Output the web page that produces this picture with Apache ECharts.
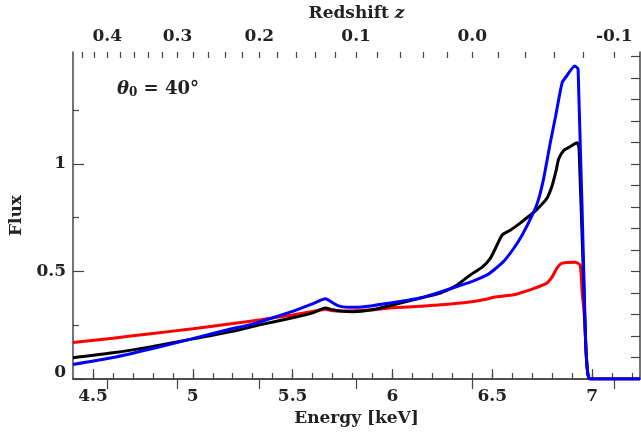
<!DOCTYPE html>
<html>
<head>
<meta charset="utf-8">
<script src="https://cdn.jsdelivr.net/npm/echarts@6/dist/echarts.min.js"></script>
<style>
  html, body { margin: 0; padding: 0; background: #fff; }
  #chart { width: 641px; height: 432px; }
</style>
</head>
<body>
<div id="chart"></div>
<script>
// energy grid (keV) and flux, one pair of arrays per curve
const energyBlack = [4.40, 4.60, 4.80, 5.00, 5.20, 5.34, 5.50, 5.60, 5.665, 5.70, 5.75, 5.80, 5.90, 6.00, 6.14, 6.24, 6.32, 6.39, 6.45, 6.49, 6.524, 6.549, 6.59, 6.64, 6.69, 6.72, 6.773, 6.80, 6.82, 6.833, 6.858, 6.89, 6.925, 6.935, 6.967, 6.978, 6.99, 7.24]
const fluxBlack   = [0.099, 0.122, 0.152, 0.187, 0.222, 0.253, 0.285, 0.308, 0.330, 0.322, 0.315, 0.313, 0.322, 0.344, 0.377, 0.400, 0.435, 0.484, 0.520, 0.561, 0.623, 0.669, 0.692, 0.725, 0.762, 0.785, 0.839, 0.900, 0.970, 1.024, 1.062, 1.080, 1.098, 1.070, 0.190, 0.030, 0.0, 0.0]

const energyBlue = [4.40, 4.60, 4.80, 5.00, 5.20, 5.29, 5.40, 5.50, 5.60, 5.665, 5.70, 5.73, 5.775, 5.85, 5.99, 6.14, 6.29, 6.40, 6.474, 6.508, 6.56, 6.608, 6.65, 6.708, 6.733, 6.758, 6.79, 6.817, 6.85, 6.87, 6.913, 6.93, 6.967, 6.978, 6.99, 7.24]
const fluxBlue   = [0.068, 0.100, 0.142, 0.188, 0.235, 0.253, 0.285, 0.315, 0.350, 0.373, 0.355, 0.340, 0.334, 0.335, 0.354, 0.377, 0.420, 0.454, 0.484, 0.507, 0.550, 0.608, 0.670, 0.777, 0.839, 0.935, 1.095, 1.220, 1.378, 1.405, 1.455, 1.440, 0.190, 0.030, 0.0, 0.0]

const energyRed = [4.40, 4.60, 4.80, 5.00, 5.20, 5.34, 5.50, 5.60, 5.665, 5.70, 5.75, 5.90, 6.00, 6.14, 6.24, 6.29, 6.408, 6.474, 6.508, 6.608, 6.64, 6.70, 6.773, 6.80, 6.823, 6.848, 6.915, 6.94, 6.95, 6.962, 6.975, 6.99, 7.24]
const fluxRed   = [0.170, 0.190, 0.212, 0.234, 0.258, 0.276, 0.298, 0.314, 0.325, 0.318, 0.316, 0.322, 0.332, 0.338, 0.346, 0.349, 0.361, 0.372, 0.380, 0.392, 0.400, 0.418, 0.446, 0.475, 0.515, 0.538, 0.543, 0.530, 0.410, 0.284, 0.050, 0.0, 0.0]

// tick labels
const energyTicks = [4.5, 5, 5.5, 6, 6.5, 7]
const fluxTicks = [0, 0.5, 1]
const fluxMinorTicks = [0.25, 0.75, 1.25]
const redshiftTicks = [0.4, 0.3, 0.2, 0.1, 0.0, -0.1]
const restEnergy = 6.4 // keV, line energy at z = 0

const energyMinorTicks = []
for (let i = 45; i <= 72; i++) energyMinorTicks.push(i / 10)
const fluxRightTicks = []
for (let i = 1; i <= 15; i++) fluxRightTicks.push(i / 10)
const redshiftMinorTicks = []
for (let i = 22; i >= -5; i--) redshiftMinorTicks.push(i / 50)

const zToE = z => restEnergy / (1 + z)
const eToZ = e => restEnergy / e - 1

const zip = (xs, ys) => xs.map((x, i) => [x, ys[i]])

const font = 'DejaVu Serif'
const frameColor = '#444'
const textStyle = { fontFamily: font, fontWeight: 'bold', fontSize: 17, color: '#222' }

const chart = echarts.init(document.getElementById('chart'))

const frame = { show: true, lineStyle: { color: frameColor, width: 1.5 } }
const noLine = { show: false }

const lineSeries = (name, xs, ys, color) => ({
  name, type: 'line', data: zip(xs, ys),
  showSymbol: false, symbol: 'none',
  smooth: 0.2,
  lineStyle: { color, width: 3 }
})

chart.setOption({
  animation: false,
  backgroundColor: '#fff',
  title: {
    text: '{th|θ}{sub|0}{eq| = 40°}',
    left: 112,
    top: 74,
    textStyle: {
      rich: {
        th: { fontFamily: font, fontStyle: 'italic', fontWeight: 'bold', fontSize: 18, color: '#222' },
        sub: { fontFamily: font, fontWeight: 'bold', fontSize: 12, color: '#222', verticalAlign: 'bottom', padding: [8, 0, 0, 0] },
        eq: { fontFamily: font, fontWeight: 'bold', fontSize: 18, color: '#222' }
      }
    }
  },
  grid: { left: 73, right: 1, top: 52, bottom: 50 },
  xAxis: [
    {
      type: 'value', min: 4.4, max: 7.24, position: 'bottom',
      name: 'Energy [keV]', nameLocation: 'middle', nameGap: 30,
      nameTextStyle: textStyle,
      axisLine: frame,
      axisTick: { show: true, inside: true, length: 10, customValues: energyTicks, lineStyle: { color: frameColor, width: 1.2 } },
      axisLabel: { customValues: energyTicks, margin: 9, ...textStyle, formatter: v => String(v) },
      splitLine: { show: false }
    },
    {
      type: 'value', min: 4.4, max: 7.24, position: 'bottom',
      axisLine: noLine,
      axisTick: { show: true, inside: true, length: 6, customValues: energyMinorTicks, lineStyle: { color: frameColor, width: 1.2 } },
      axisLabel: { show: false },
      splitLine: { show: false }
    },
    {
      type: 'value', min: 4.4, max: 7.24, position: 'top',
      name: '{r|Redshift }{z|z}', nameLocation: 'middle', nameGap: 30,
      nameTextStyle: {
        rich: {
          r: textStyle,
          z: { ...textStyle, fontStyle: 'italic' }
        }
      },
      axisLine: frame,
      axisTick: { show: true, inside: true, length: 10, customValues: redshiftTicks.map(zToE), lineStyle: { color: frameColor, width: 1.2 } },
      axisLabel: { customValues: redshiftTicks.map(zToE), margin: 7, ...textStyle, formatter: v => eToZ(v).toFixed(1) },
      splitLine: { show: false }
    },
    {
      type: 'value', min: 4.4, max: 7.24, position: 'top',
      axisLine: noLine,
      axisTick: { show: true, inside: true, length: 6, customValues: redshiftMinorTicks.map(zToE), lineStyle: { color: frameColor, width: 1.2 } },
      axisLabel: { show: false },
      splitLine: { show: false }
    }
  ],
  yAxis: [
    {
      type: 'value', min: 0, max: 1.52, position: 'left',
      name: 'Flux', nameLocation: 'middle', nameGap: 46,
      nameTextStyle: textStyle,
      axisLine: frame,
      axisTick: { show: true, inside: true, length: 11, customValues: fluxTicks, lineStyle: { color: frameColor, width: 1.2 } },
      axisLabel: {
        customValues: fluxTicks, margin: 7, ...textStyle,
        formatter: v => v === 0 ? '{zero|0}' : String(v),
        rich: { zero: { ...textStyle, padding: [0, 0, 14, 0] } }
      },
      splitLine: { show: false }
    },
    {
      type: 'value', min: 0, max: 1.52, position: 'left',
      axisLine: noLine,
      axisTick: { show: true, inside: true, length: 6, customValues: fluxMinorTicks, lineStyle: { color: frameColor, width: 1.2 } },
      axisLabel: { show: false },
      splitLine: { show: false }
    },
    {
      type: 'value', min: 0, max: 1.52, position: 'right',
      axisLine: frame,
      axisTick: { show: true, inside: true, length: 9, customValues: fluxRightTicks, lineStyle: { color: frameColor, width: 1.2 } },
      axisLabel: { show: false },
      splitLine: { show: false }
    }
  ],
  series: [
    lineSeries('red', energyRed, fluxRed, '#ff0000'),
    lineSeries('black', energyBlack, fluxBlack, '#000000'),
    lineSeries('blue', energyBlue, fluxBlue, '#0000ff')
  ]
})
</script>
</body>
</html>
